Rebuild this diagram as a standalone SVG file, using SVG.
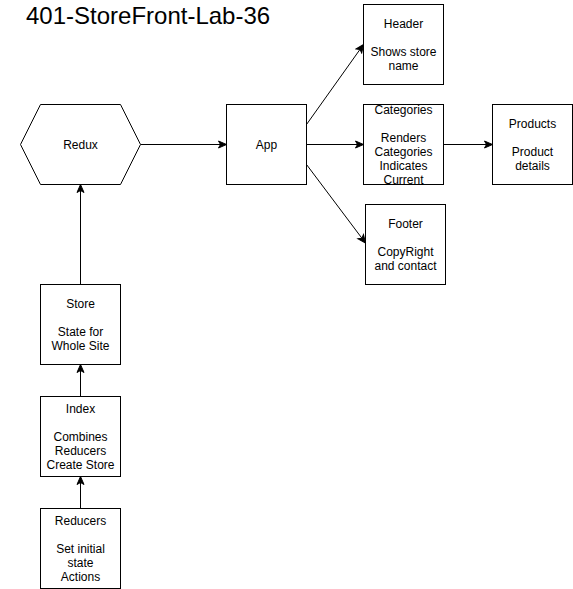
<svg xmlns="http://www.w3.org/2000/svg" width="573" height="589" viewBox="0 0 573 589">
<style>
.box{fill:#fff;stroke:#000;stroke-width:1}
.t{font-family:"Liberation Sans",Arial,sans-serif;font-size:12px;fill:#000;text-anchor:middle}
.title{font-family:"Liberation Sans",Arial,sans-serif;font-size:24px;fill:#000}
.edge{fill:none;stroke:#000;stroke-width:1;marker-end:url(#arr)}
</style>
<defs>
<marker id="arr" markerUnits="userSpaceOnUse" markerWidth="10" markerHeight="10" viewBox="0 0 10 10" refX="9" refY="5" orient="auto">
<path d="M1,1.5 L9,5 L1,8.5 L3,5 Z" fill="#000" stroke="#000" stroke-width="1"/>
</marker>
</defs>
<rect width="573" height="589" fill="#fff"/>
<text class="title" x="26" y="23.5">401-StoreFront-Lab-36</text>
<g id="connectors">
<path class="edge" d="M140.5,144.5 L226.5,144.5"/>
<path class="edge" d="M306.5,124.5 L363.5,44.5"/>
<path class="edge" d="M306.5,144.5 L363.5,144.5"/>
<path class="edge" d="M306.5,164.5 L365.5,243"/>
<path class="edge" d="M443.5,144.5 L492.5,144.5"/>
<path class="edge" d="M80.5,284.5 L80.5,184.5"/>
<path class="edge" d="M80.5,396.5 L80.5,364.5"/>
<path class="edge" d="M80.5,508.5 L80.5,476.5"/>
</g>
<g id="redux">
<polygon class="box" points="20.5,144.5 40.5,104.5 120.5,104.5 140.5,144.5 120.5,184.5 40.5,184.5"/>
<text class="t" x="80.5" y="148.5">Redux</text>
</g>
<g id="app">
<rect class="box" x="226.5" y="104.5" width="80" height="80"/>
<text class="t" x="266.5" y="148.5">App</text>
</g>
<g id="header">
<rect class="box" x="363.5" y="4.5" width="80" height="80"/>
<text class="t" x="403.5" y="27.5">Header</text>
<text class="t" x="403.5" y="55.5">Shows store</text>
<text class="t" x="403.5" y="69.5">name</text>
</g>
<g id="categories">
<rect class="box" x="363.5" y="104.5" width="80" height="80"/>
<text class="t" x="403.5" y="113.5">Categories</text>
<text class="t" x="403.5" y="141.5">Renders</text>
<text class="t" x="403.5" y="155.5">Categories</text>
<text class="t" x="403.5" y="169.5">Indicates</text>
<text class="t" x="403.5" y="183.5">Current</text>
</g>
<g id="products">
<rect class="box" x="492.5" y="104.5" width="80" height="80"/>
<text class="t" x="532.5" y="127.5">Products</text>
<text class="t" x="532.5" y="155.5">Product</text>
<text class="t" x="532.5" y="169.5">details</text>
</g>
<g id="footer">
<rect class="box" x="365.5" y="204.5" width="80" height="80"/>
<text class="t" x="405.5" y="227.5">Footer</text>
<text class="t" x="405.5" y="255.5">CopyRight</text>
<text class="t" x="405.5" y="269.5">and contact</text>
</g>
<g id="store">
<rect class="box" x="40.5" y="284.5" width="80" height="80"/>
<text class="t" x="80.5" y="307.5">Store</text>
<text class="t" x="80.5" y="335.5">State for</text>
<text class="t" x="80.5" y="349.5">Whole Site</text>
</g>
<g id="index">
<rect class="box" x="40.5" y="396.5" width="80" height="80"/>
<text class="t" x="80.5" y="412.5">Index</text>
<text class="t" x="80.5" y="440.5">Combines</text>
<text class="t" x="80.5" y="454.5">Reducers</text>
<text class="t" x="80.5" y="468.5">Create Store</text>
</g>
<g id="reducers">
<rect class="box" x="40.5" y="508.5" width="80" height="80"/>
<text class="t" x="80.5" y="524.5">Reducers</text>
<text class="t" x="80.5" y="552.5">Set initial</text>
<text class="t" x="80.5" y="566.5">state</text>
<text class="t" x="80.5" y="580.5">Actions</text>
</g>
</svg>
